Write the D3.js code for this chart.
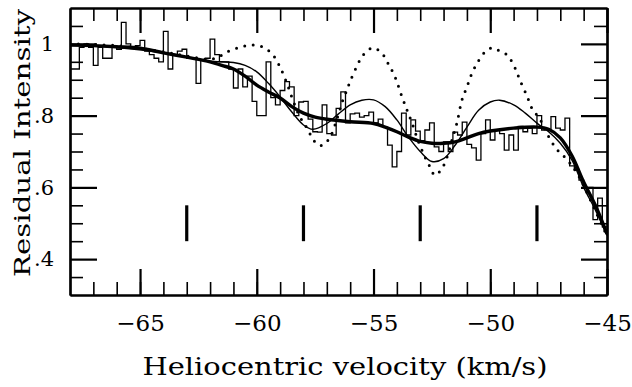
<!DOCTYPE html>
<html>
<head>
<meta charset="utf-8">
<script src="https://cdn.jsdelivr.net/npm/d3@7"></script>
<style>
  body { margin: 0; background: #fff; }
  svg { display: block; }
  text { font-family: "DejaVu Serif", "Liberation Serif", serif; fill: #000; }
</style>
</head>
<body>
<div id="chart"></div>
<script>
// observed spectrum, bins of 0.2 km/s starting at -68
const histStart = -68;
const histBin = 0.2;
const histValues = [
  0.93, 0.93, 0.99, 1.0, 0.99, 0.94, 0.99, 0.96, 0.96, 0.99,
  0.985, 1.06, 1.0, 0.99, 0.995, 1.01, 0.98, 0.97, 0.96, 0.95,
  1.035, 0.93, 0.97, 0.98, 0.985, 0.96, 0.96, 0.89, 0.955, 0.96,
  1.013, 0.97, 0.95, 0.95, 0.93, 0.877, 0.93, 0.88, 0.91, 0.84,
  0.80, 0.80, 0.95, 0.85, 0.83, 0.87, 0.895, 0.88, 0.80, 0.838,
  0.84, 0.79, 0.755, 0.754, 0.83, 0.75, 0.746, 0.82, 0.866, 0.78,
  0.805, 0.807, 0.796, 0.80, 0.81, 0.78, 0.79, 0.768, 0.718, 0.657,
  0.70, 0.807, 0.746, 0.788, 0.757, 0.73, 0.76, 0.78, 0.713, 0.70,
  0.727, 0.70, 0.754, 0.746, 0.782, 0.72, 0.71, 0.676, 0.75, 0.788,
  0.732, 0.76, 0.75, 0.704, 0.746, 0.704, 0.77, 0.755, 0.765, 0.75,
  0.80, 0.76, 0.76, 0.797, 0.765, 0.76, 0.793, 0.66, 0.65, 0.62,
  0.60, 0.60, 0.51, 0.57, 0.49
];

// model fits
const broadVel = [-68, -67, -66, -65, -64, -63, -62, -61.5, -61, -60.5, -60, -59.5, -59, -58.5, -58, -57.5, -57, -56, -55, -54.5, -54, -53.5, -53, -52.5, -52, -51.5, -51, -50.5, -50, -49, -48, -47.5, -47, -46.5, -46, -45.5, -45];
const broadInt = [0.997, 0.995, 0.992, 0.988, 0.975, 0.963, 0.95, 0.94, 0.93, 0.91, 0.885, 0.866, 0.849, 0.825, 0.807, 0.796, 0.79, 0.783, 0.778, 0.768, 0.755, 0.74, 0.728, 0.723, 0.723, 0.727, 0.738, 0.75, 0.757, 0.765, 0.768, 0.762, 0.738, 0.688, 0.615, 0.55, 0.47];

const midVel = [-68, -66, -64, -63, -62, -61.5, -61, -60.5, -60, -59.5, -59, -58.5, -58, -57.6, -57, -56.5, -56, -55.5, -55, -54.5, -54, -53.5, -53, -52.5, -52, -51.5, -51, -50.5, -50, -49.6, -49, -48.5, -48, -47.5, -47, -46.5, -46, -45.5, -45];
const midInt = [0.998, 0.99, 0.975, 0.963, 0.952, 0.95, 0.948, 0.94, 0.922, 0.89, 0.852, 0.81, 0.774, 0.762, 0.778, 0.805, 0.83, 0.843, 0.844, 0.825, 0.788, 0.74, 0.70, 0.672, 0.68, 0.718, 0.768, 0.815, 0.838, 0.843, 0.83, 0.807, 0.779, 0.755, 0.723, 0.676, 0.60, 0.537, 0.466];

const narrowVel = [-68, -66, -64, -63, -62, -61.6, -61.28, -60.85, -60.51, -60.16, -59.73, -59.31, -59.0, -58.71, -58.45, -58.15, -57.85, -57.6, -57.38, -57.16, -56.86, -56.52, -56.31, -56.14, -56.01, -55.79, -55.58, -55.37, -55.02, -54.64, -54.38, -54.08, -53.78, -53.57, -53.35, -53.1, -52.8, -52.58, -52.37, -52.07, -51.85, -51.64, -51.43, -51.21, -51.0, -50.78, -50.53, -50.23, -49.93, -49.67, -49.28, -48.94, -48.73, -48.43, -48.21, -47.87, -47.53, -47.14, -46.89, -46.59, -46.29, -46, -45.5, -45];
const narrowInt = [1.0, 0.995, 0.978, 0.966, 0.957, 0.965, 0.977, 0.988, 0.994, 0.997, 0.991, 0.969, 0.935, 0.89, 0.843, 0.796, 0.765, 0.735, 0.718, 0.718, 0.74, 0.80, 0.844, 0.871, 0.894, 0.927, 0.955, 0.974, 0.989, 0.974, 0.946, 0.908, 0.852, 0.816, 0.779, 0.732, 0.685, 0.657, 0.634, 0.653, 0.685, 0.732, 0.779, 0.844, 0.88, 0.919, 0.95, 0.977, 0.989, 0.983, 0.969, 0.933, 0.899, 0.855, 0.82, 0.79, 0.745, 0.705, 0.69, 0.668, 0.64, 0.605, 0.535, 0.465];

// component positions
const componentVel = [-63, -58, -53, -48];
const markerRange = [0.45, 0.55];

// axes
const xDomain = [-68, -45];
const yDomain = [0.3, 1.1];
const xMajor = [-65, -60, -55, -50, -45];
const xMinor = d3.range(-67, -45, 1);
const yMajor = [0.4, 0.6, 0.8, 1.0];
const yMinor = [0.35, 0.45, 0.5, 0.55, 0.65, 0.7, 0.75, 0.85, 0.9, 0.95, 1.05];
const yLabels = {0.4: ".4", 0.6: ".6", 0.8: ".8", 1: "1"};

const width = 632, height = 387;
const margin = {top: 8, right: 25, bottom: 92, left: 70};
const innerW = width - margin.left - margin.right;
const innerH = height - margin.top - margin.bottom;

const svg = d3.select("#chart").append("svg")
  .attr("width", width)
  .attr("height", height);

const g = svg.append("g")
  .attr("transform", "translate(" + margin.left + "," + margin.top + ")");

const x = d3.scaleLinear().domain(xDomain).range([0, innerW]);
const y = d3.scaleLinear().domain(yDomain).range([innerH, 0]);

g.append("clipPath").attr("id", "plotclip")
  .append("rect").attr("width", innerW).attr("height", innerH);

const plot = g.append("g").attr("clip-path", "url(#plotclip)");

// histogram as a step line
const histPts = histValues.map(function(v, i) { return [histStart + i * histBin, v]; });
histPts.push([histStart + histValues.length * histBin, histValues[histValues.length - 1]]);

plot.append("path")
  .datum(histPts)
  .attr("fill", "none")
  .attr("stroke", "#000")
  .attr("stroke-width", 1.3)
  .attr("d", d3.line()
    .x(function(d) { return x(d[0]); })
    .y(function(d) { return y(d[1]); })
    .curve(d3.curveStepAfter));

const fitLine = d3.line()
  .x(function(d) { return x(d[0]); })
  .y(function(d) { return y(d[1]); })
  .curve(d3.curveCatmullRom.alpha(0.5));

// narrow components: dotted
plot.append("path")
  .datum(d3.zip(narrowVel, narrowInt))
  .attr("fill", "none")
  .attr("stroke", "#000")
  .attr("stroke-width", 3)
  .attr("stroke-linecap", "round")
  .attr("stroke-dasharray", "0,8.5")
  .attr("d", fitLine);

// medium components: thin
plot.append("path")
  .datum(d3.zip(midVel, midInt))
  .attr("fill", "none")
  .attr("stroke", "#000")
  .attr("stroke-width", 1.4)
  .attr("d", fitLine);

// broad components: thick
plot.append("path")
  .datum(d3.zip(broadVel, broadInt))
  .attr("fill", "none")
  .attr("stroke", "#000")
  .attr("stroke-width", 3.4)
  .attr("d", fitLine);

// component markers
g.selectAll(".marker")
  .data(componentVel)
  .enter().append("line")
  .attr("class", "marker")
  .attr("x1", function(d) { return x(d); })
  .attr("x2", function(d) { return x(d); })
  .attr("y1", y(markerRange[0]))
  .attr("y2", y(markerRange[1]))
  .attr("stroke", "#000")
  .attr("stroke-width", 3.2);

// ticks, all pointing inward
function styleAxis(sel, w) {
  sel.selectAll("line").attr("stroke", "#000").attr("stroke-width", w);
  sel.select(".domain").attr("stroke", "#000").attr("stroke-width", 2.2);
  sel.selectAll("text").style("font-family", "'DejaVu Serif', serif");
}

// minor ticks
g.append("g").attr("transform", "translate(0," + innerH + ")")
  .call(d3.axisBottom(x).tickValues(xMinor).tickSizeInner(-13).tickSizeOuter(0).tickFormat(""))
  .call(styleAxis, 1.6);
g.append("g")
  .call(d3.axisTop(x).tickValues(xMinor).tickSizeInner(-13).tickSizeOuter(0).tickFormat(""))
  .call(styleAxis, 1.6);
g.append("g")
  .call(d3.axisLeft(y).tickValues(yMinor).tickSizeInner(-13).tickSizeOuter(0).tickFormat(""))
  .call(styleAxis, 1.6);
g.append("g").attr("transform", "translate(" + innerW + ",0)")
  .call(d3.axisRight(y).tickValues(yMinor).tickSizeInner(-13).tickSizeOuter(0).tickFormat(""))
  .call(styleAxis, 1.6);

// major ticks with labels
g.append("g").attr("transform", "translate(0," + innerH + ")")
  .call(d3.axisBottom(x).tickValues(xMajor).tickSizeInner(-26).tickSizeOuter(0).tickPadding(20)
    .tickFormat(function(d) { return "\u2212" + Math.abs(d); }))
  .call(styleAxis, 2.2)
  .selectAll("text").attr("font-size", 23);
g.append("g")
  .call(d3.axisTop(x).tickValues(xMajor).tickSizeInner(-25).tickSizeOuter(0).tickFormat(""))
  .call(styleAxis, 2.2);
g.append("g")
  .call(d3.axisLeft(y).tickValues(yMajor).tickSizeInner(-27).tickSizeOuter(0).tickPadding(16)
    .tickFormat(function(d) { return yLabels[d]; }))
  .call(styleAxis, 2.2)
  .selectAll("text").attr("font-size", 21);
g.append("g").attr("transform", "translate(" + innerW + ",0)")
  .call(d3.axisRight(y).tickValues(yMajor).tickSizeInner(-26).tickSizeOuter(0).tickFormat(""))
  .call(styleAxis, 2.2);

// axis titles
svg.append("text")
  .attr("x", 345)
  .attr("y", 375)
  .attr("text-anchor", "middle")
  .attr("font-size", 24)
  .attr("textLength", 405)
  .attr("lengthAdjust", "spacingAndGlyphs")
  .text("Heliocentric velocity (km/s)");

svg.append("text")
  .attr("transform", "translate(30,143) rotate(-90)")
  .attr("text-anchor", "middle")
  .attr("font-size", 23)
  .attr("textLength", 268)
  .attr("lengthAdjust", "spacingAndGlyphs")
  .text("Residual Intensity");
</script>
</body>
</html>
